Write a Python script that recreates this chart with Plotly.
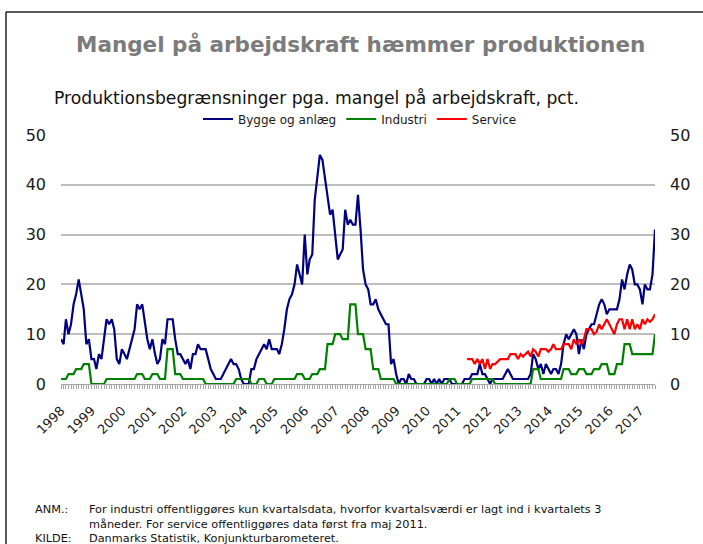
import pandas as pd
import plotly.graph_objects as go

# ---- data ----
months = pd.date_range("1998-01-01", periods=235, freq="MS")

bygge = [
    9, 8, 13, 10, 12, 16, 18, 21, 18, 15, 8, 9,        # 1998
    5, 5, 3, 6, 5, 9, 13, 12, 13, 11, 5, 4,            # 1999
    7, 6, 5, 7, 9, 11, 16, 15, 16, 13, 9, 7,           # 2000
    9, 6, 4, 5, 9, 8, 13, 13, 13, 9, 6, 6,             # 2001
    5, 4, 5, 3, 6, 6, 8, 7, 7, 7, 5, 3,                # 2002
    2, 1, 1, 1, 2, 3, 4, 5, 4, 4, 3, 1,                # 2003
    0, 0, 0, 3, 3, 5, 6, 7, 8, 7, 9, 7,                # 2004
    7, 7, 6, 8, 11, 15, 17, 18, 20, 24, 22, 20,        # 2005
    30, 22, 25, 26, 37, 41, 46, 45, 41, 38, 34, 35,    # 2006
    30, 25, 26, 27, 35, 32, 33, 32, 32, 38, 31, 23,    # 2007
    20, 19, 16, 16, 17, 15, 14, 13, 12, 12, 4, 5,      # 2008
    2, 0, 1, 1, 0, 2, 1, 1, 0, 0, 0, 0,                # 2009
    1, 1, 0, 1, 0, 1, 0, 1, 1, 1, 0, 0,                # 2010
    0, 0, 0, 1, 1, 1, 2, 2, 2, 4, 2, 2,                # 2011
    1, 0, 1, 1, 1, 1, 1, 2, 3, 2, 1, 1,                # 2012
    1, 1, 1, 1, 1, 2, 6, 5, 3, 4, 2, 4,                # 2013
    3, 2, 3, 3, 2, 4, 8, 10, 9, 10, 11, 10,            # 2014
    6, 9, 7, 10, 11, 12, 12, 14, 16, 17, 16, 14,       # 2015
    15, 15, 15, 15, 17, 21, 19, 22, 24, 23, 20, 20,    # 2016
    19, 16, 20, 19, 19, 22, 31,                        # 2017
]

industri = [
    1, 1, 1, 2, 2, 2, 3, 3, 3, 4, 4, 4,                # 1998
    0, 0, 0, 0, 0, 0, 1, 1, 1, 1, 1, 1,                # 1999
    1, 1, 1, 1, 1, 1, 2, 2, 2, 1, 1, 1,                # 2000
    2, 2, 2, 1, 1, 1, 7, 7, 7, 2, 2, 2,                # 2001
    1, 1, 1, 1, 1, 1, 1, 1, 1, 0, 0, 0,                # 2002
    0, 0, 0, 0, 0, 0, 0, 0, 0, 1, 1, 1,                # 2003
    1, 1, 1, 0, 0, 0, 1, 1, 1, 0, 0, 0,                # 2004
    1, 1, 1, 1, 1, 1, 1, 1, 1, 2, 2, 2,                # 2005
    1, 1, 1, 2, 2, 2, 3, 3, 3, 8, 8, 8,                # 2006
    10, 10, 10, 9, 9, 9, 16, 16, 16, 10, 10, 10,       # 2007
    7, 7, 7, 3, 3, 3, 1, 1, 1, 1, 1, 1,                # 2008
    0, 0, 0, 0, 0, 0, 0, 0, 0, 0, 0, 0,                # 2009
    0, 0, 0, 0, 0, 0, 0, 0, 0, 1, 1, 1,                # 2010
    0, 0, 0, 0, 0, 0, 1, 1, 1, 1, 1, 1,                # 2011
    1, 1, 1, 0, 0, 0, 0, 0, 0, 0, 0, 0,                # 2012
    0, 0, 0, 0, 0, 0, 3, 3, 3, 1, 1, 1,                # 2013
    1, 1, 1, 1, 1, 1, 3, 3, 3, 2, 2, 2,                # 2014
    3, 3, 3, 2, 2, 2, 3, 3, 3, 4, 4, 4,                # 2015
    2, 2, 2, 4, 4, 4, 8, 8, 8, 6, 6, 6,                # 2016
    6, 6, 6, 6, 6, 6, 10,                              # 2017
]

service_months = pd.date_range("2011-05-01", periods=75, freq="MS")
service = [
    5, 5, 5, 4, 5, 4, 5, 3,                            # 2011 (maj-dec)
    5, 3, 4, 4, 4.5, 5, 5, 5, 5, 6, 6, 6,              # 2012
    5, 6, 5.5, 6, 6.5, 5.5, 7, 6.5, 5.5, 7, 7, 7,      # 2013
    6.5, 7, 8, 7, 7, 7, 8, 8, 8, 7, 9, 8,              # 2014
    9, 8, 9, 11, 11, 11, 10, 10.5, 12, 11, 12, 13,     # 2015
    12, 11, 10, 12, 13, 13, 11, 13, 11, 13, 11, 12,    # 2016
    11, 13, 12, 13, 12.5, 13, 14,                      # 2017
]

y_ticks = [0, 10, 20, 30, 40, 50]

title_text = "Mangel på arbejdskraft hæmmer produktionen"
subtitle_text = "Produktionsbegrænsninger pga. mangel på arbejdskraft, pct."
note_label1 = "ANM.:"
note_text1 = "For industri offentliggøres kun kvartalsdata, hvorfor kvartalsværdi er lagt ind i kvartalets 3"
note_text2 = "måneder. For service offentliggøres data først fra maj 2011."
note_label2 = "KILDE:"
note_text3 = "Danmarks Statistik, Konjunkturbarometeret."

FONT = "DejaVu Sans"

# ---- figure ----
fig = go.Figure()
fig.add_trace(go.Scatter(x=months, y=bygge, mode="lines", name="Bygge og anlæg",
                         line=dict(color="#000080", width=2.2)))
fig.add_trace(go.Scatter(x=months, y=industri, mode="lines", name="Industri",
                         line=dict(color="#008000", width=2.2)))
fig.add_trace(go.Scatter(x=service_months, y=service, mode="lines", name="Service",
                         line=dict(color="#ff0000", width=2.2), yaxis="y2"))

W, H = 703, 544
L, R, T, B = 61, 48, 135, 160
pw, ph = W - L - R, H - T - B


def px(xp):
    return (xp - L) / pw


def py(yp):
    return (H - B - yp) / ph


fig.update_layout(
    width=W, height=H,
    margin=dict(l=L, r=R, t=T, b=B, autoexpand=False),
    paper_bgcolor="white", plot_bgcolor="white",
    font=dict(family=FONT, color="#1a1a1a"),
    showlegend=True,
    legend=dict(orientation="h", x=px(360), xanchor="center", y=py(119), yanchor="middle",
                font=dict(family=FONT, size=12, color="#1a1a1a"), bgcolor="rgba(0,0,0,0)",
                itemwidth=30, tracegroupgap=0),
    xaxis=dict(
        type="date", range=["1998-01-01", "2017-07-01"],
        tick0="1998-01-01", dtick="M12", tickformat="%Y", tickangle=-45,
        ticks="outside", ticklen=4, tickcolor="#a6a6a6", tickwidth=1,
        minor=dict(dtick="M1", ticks="outside", ticklen=4, tickcolor="#a6a6a6", tickwidth=1, showgrid=False),
        showline=True, linecolor="#a6a6a6", linewidth=1,
        showgrid=False, zeroline=False,
        tickfont=dict(family=FONT, size=13, color="#1a1a1a"),
        ticklabelstandoff=9,
    ),
    yaxis=dict(
        range=[0, 50], tickvals=y_ticks, showgrid=True, gridcolor="#bdbdbd", gridwidth=1.5,
        zeroline=False, showline=False, ticks="",
        tickfont=dict(family=FONT, size=16, color="#1a1a1a"), ticklabelstandoff=14,
    ),
    yaxis2=dict(
        range=[0, 50], tickvals=y_ticks, overlaying="y", side="right", anchor="x",
        showgrid=False, zeroline=False, showline=False, ticks="",
        tickfont=dict(family=FONT, size=16, color="#1a1a1a"), ticklabelstandoff=14,
    ),
)

annotations = [
    dict(text="<b>" + title_text + "</b>", x=px(360), y=py(45), xanchor="center", yanchor="middle",
         font=dict(family=FONT, size=21.5, color="#7b7b7b")),
    dict(text=subtitle_text, x=px(52), y=py(98), xanchor="left", yanchor="middle",
         font=dict(family=FONT, size=17.2, color="#111111")),
    dict(text=note_label1, x=px(33), y=py(509), xanchor="left", yanchor="middle",
         font=dict(family=FONT, size=11.3, color="#111111")),
    dict(text=note_text1, x=px(87), y=py(509), xanchor="left", yanchor="middle",
         font=dict(family=FONT, size=11.3, color="#111111")),
    dict(text=note_text2, x=px(87), y=py(524), xanchor="left", yanchor="middle",
         font=dict(family=FONT, size=11.3, color="#111111")),
    dict(text=note_label2, x=px(33), y=py(538), xanchor="left", yanchor="middle",
         font=dict(family=FONT, size=11.3, color="#111111")),
    dict(text=note_text3, x=px(87), y=py(538), xanchor="left", yanchor="middle",
         font=dict(family=FONT, size=11.3, color="#111111")),
]
for a in annotations:
    a.update(xref="paper", yref="paper", showarrow=False, align="left")
fig.update_layout(annotations=annotations)

# outer frame (left and top edges visible)
fig.add_shape(type="line", xref="paper", yref="paper", x0=px(6), x1=px(6), y0=py(12), y1=py(546),
              line=dict(color="#222222", width=1.5))
fig.add_shape(type="line", xref="paper", yref="paper", x0=px(6), x1=px(705), y0=py(12), y1=py(12),
              line=dict(color="#222222", width=1.5))

fig.write_html("out.html", config={"displayModeBar": False},
               post_script="document.body.style.margin='0px';")
